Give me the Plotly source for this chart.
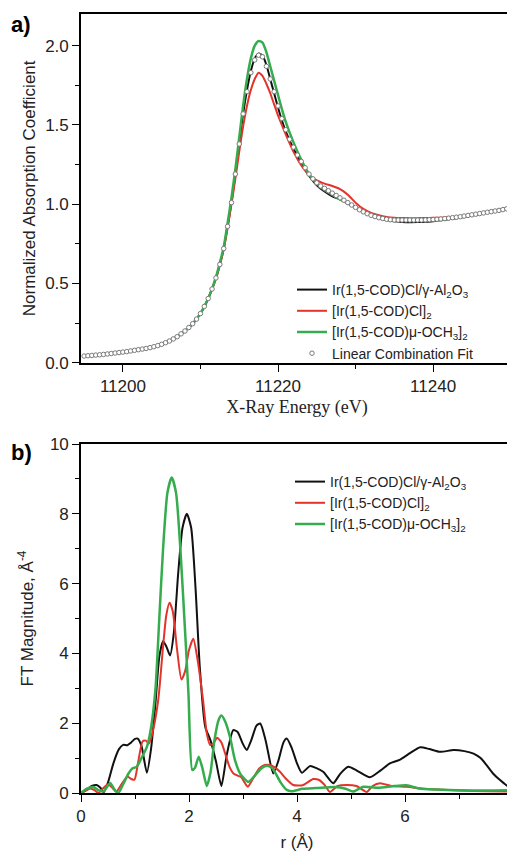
import plotly.graph_objects as go

# ---------------- Panel a) XANES ----------------
energy = [11195, 11197, 11199, 11201, 11203, 11205, 11207, 11208, 11209, 11210,
          11211, 11212, 11212.5, 11213, 11213.5, 11214, 11214.5, 11215, 11215.5, 11216,
          11216.5, 11217, 11217.5, 11218, 11218.5, 11219, 11219.5, 11220, 11220.5, 11221,
          11222, 11223, 11224, 11225, 11226, 11227, 11228, 11229, 11230, 11231,
          11232, 11233, 11234, 11235, 11236, 11237, 11238, 11239, 11240, 11241,
          11242, 11243, 11244, 11245, 11246, 11247, 11248, 11249, 11250]

abs_sample = [0.042, 0.050, 0.061, 0.074, 0.090, 0.116, 0.164, 0.200, 0.246, 0.31,
              0.405, 0.535, 0.62, 0.72, 0.86, 1.01, 1.19, 1.38, 1.57, 1.72,
              1.84, 1.92, 1.95, 1.94, 1.88, 1.79, 1.70, 1.61, 1.53, 1.46,
              1.35, 1.26, 1.18, 1.12, 1.08, 1.05, 1.03, 1.005, 0.98, 0.955,
              0.93, 0.912, 0.90, 0.892, 0.888, 0.886, 0.887, 0.889, 0.893, 0.898,
              0.905, 0.912, 0.92, 0.93, 0.94, 0.95, 0.96, 0.97, 0.978]

abs_cl_dimer = [0.042, 0.050, 0.061, 0.074, 0.090, 0.116, 0.164, 0.200, 0.246, 0.31,
                0.405, 0.53, 0.615, 0.715, 0.85, 1.00, 1.16, 1.33, 1.49, 1.62,
                1.72, 1.79, 1.83, 1.81, 1.76, 1.70, 1.63, 1.56, 1.50, 1.44,
                1.33, 1.245, 1.185, 1.15, 1.13, 1.115, 1.095, 1.06, 1.01, 0.97,
                0.945, 0.93, 0.92, 0.915, 0.913, 0.912, 0.912, 0.913, 0.914, 0.915,
                0.917, 0.92, 0.924, 0.931, 0.94, 0.95, 0.96, 0.97, 0.978]

abs_och3_dimer = [0.042, 0.050, 0.061, 0.074, 0.090, 0.116, 0.164, 0.200, 0.246, 0.31,
                  0.405, 0.54, 0.63, 0.73, 0.88, 1.04, 1.22, 1.42, 1.62, 1.79,
                  1.92, 2.00, 2.03, 2.02, 1.96, 1.87, 1.78, 1.69, 1.60, 1.52,
                  1.39, 1.28, 1.19, 1.13, 1.09, 1.06, 1.03, 1.005, 0.98, 0.955,
                  0.935, 0.92, 0.91, 0.903, 0.898, 0.895, 0.895, 0.897, 0.90, 0.903,
                  0.907, 0.913, 0.92, 0.93, 0.94, 0.95, 0.96, 0.97, 0.978]

lcf_energy = [11195.0 + 0.5 * i for i in range(111)]
lcf_values = [0.042, 0.044, 0.046, 0.048, 0.050, 0.052, 0.055, 0.058, 0.061, 0.064,
              0.067, 0.070, 0.074, 0.078, 0.082, 0.086, 0.090, 0.095, 0.101, 0.108,
              0.116, 0.126, 0.137, 0.150, 0.164, 0.182, 0.200, 0.222, 0.246, 0.275,
              0.31, 0.355, 0.405, 0.465, 0.535, 0.62, 0.72, 0.86, 1.01, 1.19,
              1.38, 1.57, 1.71, 1.83, 1.91, 1.94, 1.93, 1.87, 1.79, 1.71,
              1.62, 1.54, 1.47, 1.41, 1.36, 1.31, 1.27, 1.23, 1.19, 1.16,
              1.135, 1.115, 1.10, 1.085, 1.07, 1.055, 1.04, 1.025, 1.01, 0.995,
              0.98, 0.965, 0.952, 0.94, 0.93, 0.922, 0.915, 0.91, 0.905, 0.902,
              0.90, 0.90, 0.90, 0.90, 0.90, 0.90, 0.90, 0.90, 0.901, 0.902,
              0.903, 0.905, 0.907, 0.909, 0.912, 0.915, 0.918, 0.921, 0.925, 0.929,
              0.933, 0.937, 0.941, 0.945, 0.949, 0.953, 0.957, 0.961, 0.966, 0.971,
              0.976]

xa_ticks = [11200, 11220, 11240]
ya_ticks = [0.0, 0.5, 1.0, 1.5, 2.0]

# ---------------- Panel b) FT EXAFS ----------------
r_sample = [0.0, 0.1, 0.2, 0.29, 0.36, 0.42, 0.5, 0.6, 0.7, 0.78, 0.86, 0.93, 1.0, 1.05,
            1.12, 1.22, 1.3, 1.38, 1.45, 1.52, 1.58, 1.65, 1.72, 1.8, 1.88, 1.96, 2.04,
            2.12, 2.2, 2.3, 2.4, 2.5, 2.6, 2.7, 2.82, 2.9, 3.0, 3.07, 3.15, 3.25, 3.32,
            3.42, 3.56, 3.65, 3.75, 3.81, 3.9, 4.0, 4.09, 4.24, 4.35, 4.49, 4.67, 4.8,
            4.95, 5.1, 5.35, 5.55, 5.72, 5.9, 6.1, 6.28, 6.45, 6.65, 6.9, 7.1, 7.27,
            7.4, 7.51, 7.63, 7.76, 7.88, 8.0]
ft_sample = [0.0, 0.08, 0.2, 0.23, 0.15, 0.02, 0.3, 0.85, 1.25, 1.38, 1.37, 1.45, 1.55, 1.56,
             1.35, 0.58, 1.3, 2.6, 3.9, 4.35, 4.2, 3.94, 4.6, 6.3, 7.6, 8.0, 7.6,
             5.9, 3.6, 1.9, 1.5, 0.9, 0.2, 1.1, 1.8, 1.75, 1.4, 1.23, 1.5, 1.93, 1.99,
             1.5, 0.56, 0.9, 1.45, 1.56, 1.3, 0.85, 0.58, 0.77, 0.72, 0.6, 0.28, 0.55,
             0.75, 0.65, 0.45, 0.65, 0.85, 0.95, 1.15, 1.31, 1.26, 1.18, 1.23, 1.2, 1.13,
             1.0, 0.8, 0.56, 0.37, 0.22, 0.14]

r_cl_dimer = [0.0, 0.1, 0.17, 0.25, 0.32, 0.42, 0.5, 0.58, 0.65, 0.75, 0.86, 0.93, 0.99,
              1.06, 1.14, 1.2, 1.26, 1.32, 1.43, 1.52, 1.58, 1.64, 1.7, 1.78, 1.86, 1.93,
              2.0, 2.08, 2.15, 2.26, 2.33, 2.39, 2.45, 2.52, 2.6, 2.67, 2.75, 2.83, 2.9,
              2.97, 3.03, 3.09, 3.2, 3.3, 3.4, 3.5, 3.6, 3.69, 3.8, 3.93, 4.1, 4.3, 4.4,
              4.5, 4.61, 4.75, 4.92, 5.1, 5.29, 5.4, 5.54, 5.75, 6.03, 6.3, 6.6, 7.0,
              7.5, 8.0]
ft_cl_dimer = [0.0, 0.08, 0.13, 0.08, 0.0, 0.15, 0.25, 0.15, 0.03, 0.25, 0.47, 0.4, 0.38,
               0.9, 1.48, 1.5, 1.42, 1.7, 2.66, 4.2, 5.1, 5.45, 5.2, 4.1, 3.25, 3.5,
               4.1, 4.42, 3.9, 2.66, 1.7, 1.38, 1.42, 1.58, 1.45, 1.13, 0.75, 0.55, 0.5,
               0.45, 0.3, 0.18, 0.45, 0.7, 0.8, 0.8, 0.72, 0.6, 0.4, 0.23, 0.22, 0.4, 0.38,
               0.25, 0.03, 0.2, 0.23, 0.2, 0.03, 0.2, 0.28, 0.2, 0.18, 0.13, 0.1, 0.07,
               0.05, 0.04]

r_och3_dimer = [0.0, 0.1, 0.23, 0.32, 0.42, 0.54, 0.62, 0.69, 0.78, 0.88, 0.95, 1.03, 1.12,
                1.22, 1.3, 1.38, 1.45, 1.52, 1.6, 1.68, 1.76, 1.84, 1.93, 1.99, 2.06, 2.11,
                2.18, 2.25, 2.33, 2.4, 2.47, 2.55, 2.6, 2.67, 2.76, 2.85, 2.95, 3.1, 3.22,
                3.35, 3.45, 3.55, 3.69, 3.8, 3.9, 4.1, 4.36, 4.7, 4.9, 5.04, 5.23, 5.5,
                5.8, 6.03, 6.26, 6.6, 7.0, 7.5, 8.0]
ft_och3_dimer = [0.0, 0.12, 0.17, 0.08, 0.05, 0.29, 0.1, 0.0, 0.25, 0.56, 0.7, 0.75, 1.0,
                 1.32, 1.9, 3.0, 5.0, 7.0, 8.6, 9.04, 8.6, 7.0, 4.56, 2.85, 0.66, 0.72,
                 1.04, 0.7, 0.2, 0.6, 1.5, 2.1, 2.22, 2.05, 1.6, 0.95, 0.55, 0.32, 0.5,
                 0.72, 0.78, 0.7, 0.32, 0.1, 0.05, 0.12, 0.14, 0.17, 0.12, 0.04, 0.18, 0.15,
                 0.2, 0.22, 0.13, 0.1, 0.08, 0.07, 0.08]

xb_ticks = [0, 2, 4, 6, 8]
yb_ticks = [0, 2, 4, 6, 8, 10]

names = ["Ir(1,5-COD)Cl/\u03b3-Al<sub>2</sub>O<sub>3</sub>",
         "[Ir(1,5-COD)Cl]<sub>2</sub>",
         "[Ir(1,5-COD)\u03bc-OCH<sub>3</sub>]<sub>2</sub>",
         "Linear Combination Fit"]

BLACK = "#111111"
RED = "#e3342b"
GREEN = "#35ad4e"
FONT = "Liberation Sans, Arial, sans-serif"
SERIF = "Liberation Serif, Times New Roman, serif"

# page body has an 8px margin: figure is offset by 8px
OFF = 8
W, H = 515 - OFF, 852 - OFF
def fx(px):
    return (px - OFF) / W
def fy(py):
    return 1 - (py - OFF) / H

fig = go.Figure()

lw = 2
fig.add_trace(go.Scatter(x=energy, y=abs_sample, mode="lines", name=names[0],
                         line=dict(color=BLACK, width=lw, shape="spline", smoothing=0.6),
                         xaxis="x", yaxis="y", legend="legend"))
fig.add_trace(go.Scatter(x=energy, y=abs_cl_dimer, mode="lines", name=names[1],
                         line=dict(color=RED, width=lw, shape="spline", smoothing=0.6),
                         xaxis="x", yaxis="y", legend="legend"))
fig.add_trace(go.Scatter(x=energy, y=abs_och3_dimer, mode="lines", name=names[2],
                         line=dict(color=GREEN, width=lw + 0.5, shape="spline", smoothing=0.6),
                         xaxis="x", yaxis="y", legend="legend"))
fig.add_trace(go.Scatter(x=lcf_energy, y=lcf_values, mode="markers", name=names[3],
                         marker=dict(symbol="circle", size=4.5, color="white",
                                     line=dict(color="#7a7a7a", width=1)),
                         xaxis="x", yaxis="y", legend="legend"))

fig.add_trace(go.Scatter(x=r_sample, y=ft_sample, mode="lines", name=names[0],
                         line=dict(color=BLACK, width=lw, shape="spline", smoothing=0.6),
                         xaxis="x2", yaxis="y2", legend="legend2"))
fig.add_trace(go.Scatter(x=r_cl_dimer, y=ft_cl_dimer, mode="lines", name=names[1],
                         line=dict(color=RED, width=lw, shape="spline", smoothing=0.6),
                         xaxis="x2", yaxis="y2", legend="legend2"))
fig.add_trace(go.Scatter(x=r_och3_dimer, y=ft_och3_dimer, mode="lines", name=names[2],
                         line=dict(color=GREEN, width=lw + 0.5, shape="spline", smoothing=0.6),
                         xaxis="x2", yaxis="y2", legend="legend2"))

axis_common = dict(showline=True, linecolor="black", linewidth=1.6, mirror=True,
                   ticks="outside", ticklen=7, tickwidth=1.4, tickcolor="black",
                   showgrid=False, zeroline=False, automargin=False,
                   tickfont=dict(family=FONT, size=17, color="#222"))
minor_common = dict(ticks="outside", ticklen=4, tickwidth=1.2, tickcolor="black")

xdom = [fx(81), fx(513)]
fig.update_layout(
    width=W, height=H,
    margin=dict(l=0, r=0, t=0, b=0),
    paper_bgcolor="white", plot_bgcolor="white",
    xaxis=dict(domain=xdom, anchor="y", range=[11194.6, 11250.3],
               tickvals=xa_ticks, ticktext=[str(v) for v in xa_ticks],
               minor=dict(tickvals=[11210, 11230], **minor_common),
               title=dict(text="X-Ray Energy (eV)", standoff=5,
                          font=dict(family=SERIF, size=18, color="#222")),
               **axis_common),
    yaxis=dict(domain=[fy(362.7), fy(14)], anchor="x", range=[0, 2.2],
               tickvals=ya_ticks, ticktext=["%.1f" % v for v in ya_ticks],
               minor=dict(tickvals=[0.25, 0.75, 1.25, 1.75], **minor_common),
               title=dict(text="Normalized Absorption Coefficient", standoff=5,
                          font=dict(family=FONT, size=17, color="#222")),
               **axis_common),
    xaxis2=dict(domain=xdom, anchor="y2", range=[0, 8],
                tickvals=xb_ticks, ticktext=[str(v) for v in xb_ticks],
                minor=dict(tickvals=[1, 3, 5, 7], **minor_common),
                title=dict(text="r (\u00c5)", standoff=20,
                           font=dict(family=FONT, size=17, color="#222")),
                **axis_common),
    yaxis2=dict(domain=[fy(793), fy(444)], anchor="x2", range=[0, 10],
                tickvals=yb_ticks, ticktext=[str(v) for v in yb_ticks],
                minor=dict(tickvals=[1, 3, 5, 7, 9], **minor_common),
                title=dict(text="FT Magnitude, \u00c5<sup>-4</sup>", standoff=12,
                           font=dict(family=FONT, size=17, color="#222")),
                **axis_common),
    legend=dict(x=fx(292), y=fy(274), xanchor="left", yanchor="top",
                bgcolor="rgba(0,0,0,0)", borderwidth=0, tracegroupgap=0,
                itemwidth=30, font=dict(family=FONT, size=14, color="#222")),
    legend2=dict(x=fx(290), y=fy(466), xanchor="left", yanchor="top",
                 bgcolor="rgba(0,0,0,0)", borderwidth=0, tracegroupgap=0,
                 itemwidth=30, font=dict(family=FONT, size=14, color="#222")),
    showlegend=True,
    annotations=[
        dict(text="<b>a)</b>", x=fx(9), y=fy(10), xref="paper", yref="paper",
             xanchor="left", yanchor="top", showarrow=False,
             font=dict(family=FONT, size=22, color="black")),
        dict(text="<b>b)</b>", x=fx(9), y=fy(438), xref="paper", yref="paper",
             xanchor="left", yanchor="top", showarrow=False,
             font=dict(family=FONT, size=22, color="black")),
    ],
)

fig.write_html("out.html")
